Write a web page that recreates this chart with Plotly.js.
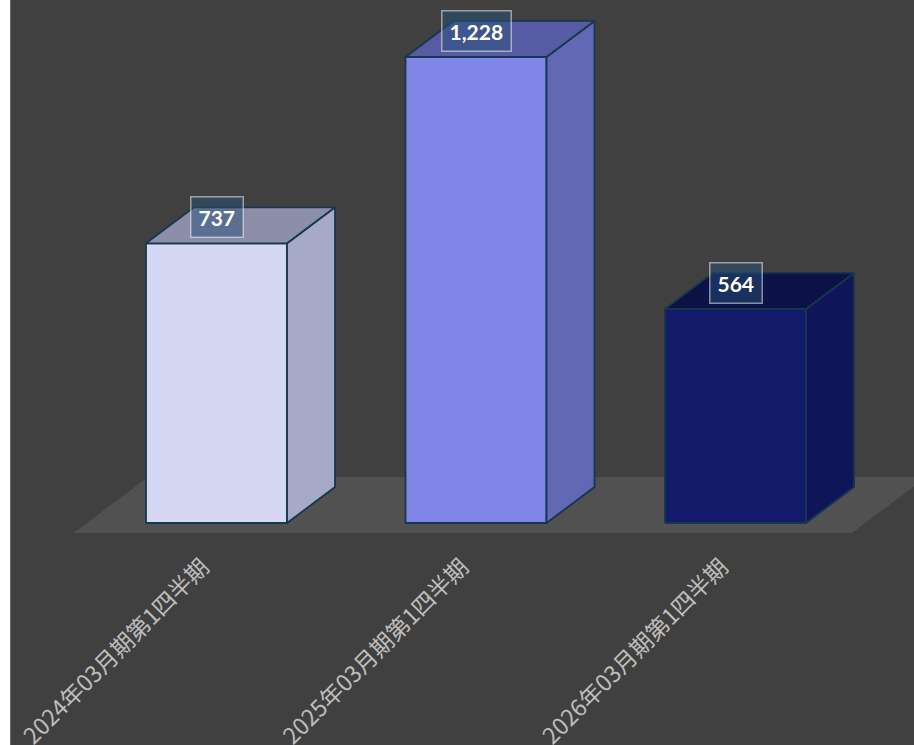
<!DOCTYPE html>
<html>
<head>
<meta charset="utf-8">
<script src="https://cdn.plot.ly/plotly-3.0.1.min.js"></script>
<style>
  html, body { margin: 0; padding: 0; background: #ffffff; width: 914px; height: 745px; overflow: hidden; }
  #chart { position: absolute; left: 10px; top: 0; width: 903px; height: 745px; border-left: 1px solid #6a6a6a; background: #404040; }
</style>
</head>
<body>
<div id="chart"></div>
<script>
// ---- data ----
const categories = ["2024年03月期第1四半期", "2025年03月期第1四半期", "2026年03月期第1四半期"];
const values = [737, 1228, 564];

// ---- styles ----
const frontColors = ["#D5D7F3", "#7F85E7", "#141A6A"];
const sideColors  = ["#A7AAC7", "#6368B4", "#10155A"];
const topColors   = ["#8D8FAA", "#575BA3", "#0C1147"];
const edgeColor = "#15384C";
const floorColor = "#515151";

// geometry in axis units
const halfW = 0.2717;      // half bar width (category units)
const depthX = 0.185;      // depth offset along x (category units)
const depthY = 94.9;       // depth offset along y (value units)

const traces = [];
function poly(xs, ys, fill, lineColor, lw) {
  traces.push({
    type: "scatter", mode: "lines", x: xs.concat([xs[0]]), y: ys.concat([ys[0]]),
    fill: "toself", fillcolor: fill,
    line: { color: lineColor, width: lw },
    hoverinfo: "skip", showlegend: false
  });
}

// floor
const fFront = -10 / 36, fBack = 46 / 36;
const fl = -0.5, fr = categories.length - 0.5;
poly(
  [fl + fFront * depthX, fr + fFront * depthX, fr + fBack * depthX, fl + fBack * depthX],
  [fFront * depthY, fFront * depthY, fBack * depthY, fBack * depthY],
  floorColor, floorColor, 0
);

// bars
values.forEach((v, i) => {
  const x0 = i - halfW, x1 = i + halfW;
  poly([x0, x1, x1, x0], [0, 0, v, v], frontColors[i], edgeColor, 1.8);
  poly([x1, x1 + depthX, x1 + depthX, x1], [0, depthY, v + depthY, v], sideColors[i], edgeColor, 1.8);
  poly([x0, x1, x1 + depthX, x0 + depthX], [v, v, v + depthY, v + depthY], topColors[i], edgeColor, 1.8);
});

const annotations = values.map((v, i) => ({
  x: i, y: v, xref: "x", yref: "y", yshift: 26, showarrow: false,
  text: "<b>" + v.toLocaleString("en-US") + "</b>",
  font: { family: "Lato, 'Open Sans', sans-serif", size: 21, color: "#ffffff" },
  bgcolor: "rgba(40,80,120,0.5)",
  bordercolor: "rgba(255,255,255,0.5)", borderwidth: 1.5, borderpad: 7,
  xanchor: "center", yanchor: "middle"
}));

const pxPerUnit = 259.5, plotW = 903;
const xMin = -205.5 / pxPerUnit;
const layout = {
  width: 903, height: 745,
  margin: { l: 0, r: 0, t: 0, b: 205, pad: 0 },
  paper_bgcolor: "#404040", plot_bgcolor: "#404040",
  showlegend: false,
  xaxis: {
    range: [xMin, xMin + plotW / pxPerUnit],
    tickvals: categories.map((c, i) => i), ticktext: categories,
    tickangle: -45, showgrid: false, zeroline: false, showline: false, ticks: "",
    ticklabelshift: -14, ticklabelstandoff: 8,
    tickfont: { family: "'Noto Sans CJK JP', sans-serif", size: 23, color: "#BEBEBE" },
    fixedrange: true
  },
  yaxis: {
    range: [-17 / 0.3795, 523 / 0.3795],
    visible: false, showgrid: false, zeroline: false, fixedrange: true
  },
  annotations: annotations
};

Plotly.newPlot("chart", traces, layout, { displayModeBar: false, staticPlot: true });
</script>
</body>
</html>
